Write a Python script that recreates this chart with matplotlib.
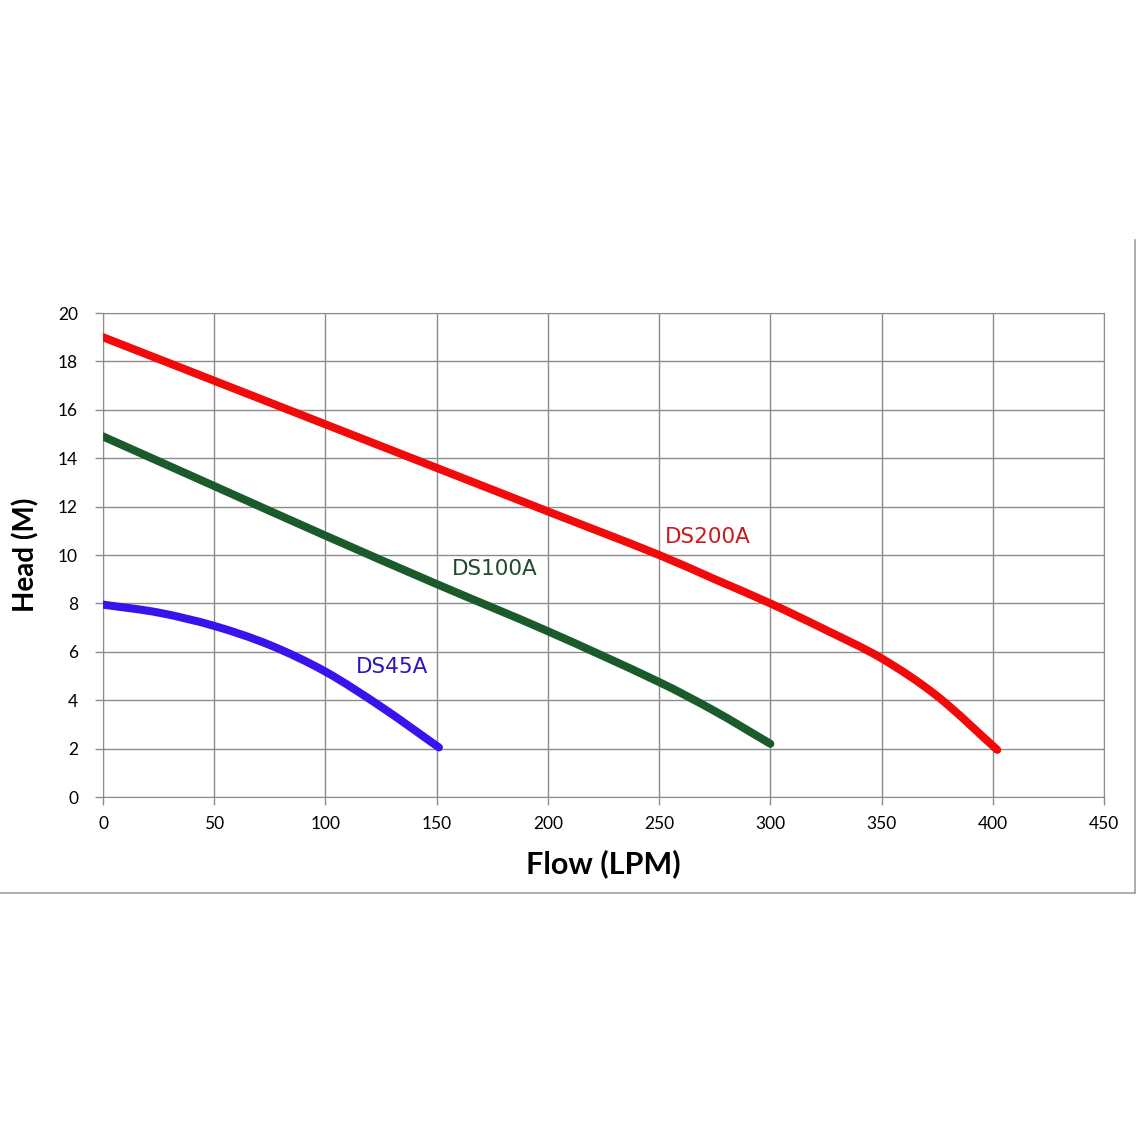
import matplotlib.pyplot as plt
from matplotlib.lines import Line2D
from matplotlib.path import Path
from matplotlib.patches import PathPatch

# pump curves (flow LPM, head M)
ds200_flow = [0, 50, 100, 150, 200, 250, 275, 300, 325, 350, 375, 402]
ds200_head = [19.0, 17.2, 15.4, 13.6, 11.8, 10.0, 9.0, 8.0, 6.9, 5.73, 4.17, 1.95]
ds100_flow = [0, 50, 100, 150, 200, 250, 275, 300]
ds100_head = [14.9, 12.85, 10.8, 8.8, 6.85, 4.75, 3.55, 2.2]
ds45_flow = [0, 25, 50, 75, 100, 125, 151]
ds45_head = [7.95, 7.62, 7.07, 6.28, 5.18, 3.73, 2.05]

x_ticks = [0, 50, 100, 150, 200, 250, 300, 350, 400, 450]
y_ticks = [0, 2, 4, 6, 8, 10, 12, 14, 16, 18, 20]


def smooth_path(xs, ys):
    # smoothed line like Excel's: cubic Hermite pieces drawn as Bezier curves
    n = len(xs)
    m = []
    for i in range(n):
        a = max(i - 1, 0)
        b = min(i + 1, n - 1)
        m.append((ys[b] - ys[a]) / (xs[b] - xs[a]))
    verts = [(xs[0], ys[0])]
    codes = [Path.MOVETO]
    for i in range(n - 1):
        h = xs[i + 1] - xs[i]
        verts += [(xs[i] + h / 3, ys[i] + m[i] * h / 3),
                  (xs[i + 1] - h / 3, ys[i + 1] - m[i + 1] * h / 3),
                  (xs[i + 1], ys[i + 1])]
        codes += [Path.CURVE4] * 3
    return Path(verts, codes)


fig = plt.figure(figsize=(11.37, 11.37), dpi=100)
ax = fig.add_axes([0.0906, 0.299, 0.8804, 0.4257])

grid_col = '#8c8c8c'
for fx, hy, col in [(ds200_flow, ds200_head, '#f20a0a'),
                    (ds100_flow, ds100_head, '#1b5a2a'),
                    (ds45_flow, ds45_head, '#3a12ee')]:
    ax.add_patch(PathPatch(smooth_path(fx, hy), facecolor='none', edgecolor=col,
                           lw=5.8, capstyle='round', joinstyle='round', zorder=3))

ax.text(272, 10.75, 'DS200A', color='#cc1a1a', fontsize=15.5, ha='center', va='center')
ax.text(176, 9.42, 'DS100A', color='#1f4a2e', fontsize=15.5, ha='center', va='center')
ax.text(130, 5.37, 'DS45A', color='#2a14c4', fontsize=15.5, ha='center', va='center')

ax.set_xlim(0, 450)
ax.set_ylim(0, 20)
ax.set_xticks(x_ticks)
ax.set_yticks(y_ticks)
ax.grid(True, color=grid_col, lw=1)
ax.set_axisbelow(True)
for s in ax.spines.values():
    s.set_color(grid_col)
ax.tick_params(colors=grid_col, labelcolor='black', length=6, width=1, labelsize=12.5)
for lab in ax.get_xticklabels() + ax.get_yticklabels():
    lab.set_family('Lato')
ax.tick_params(axis='x', pad=8)
ax.tick_params(axis='y', pad=12)

ax.set_xlabel('Flow (LPM)', fontsize=22, fontweight='bold', family='Lato', labelpad=12)
ax.set_ylabel('Head (M)', fontsize=20, fontweight='bold', family='Lato', labelpad=13)

# outer chart border (right and bottom edges visible)
fig.add_artist(Line2D([0.9985, 0.9985], [1 - 240/1137, 1 - 893/1137], color='#a0a0a0', lw=1.2))
fig.add_artist(Line2D([0, 0.9985], [1 - 893/1137, 1 - 893/1137], color='#a0a0a0', lw=1.2))

fig.savefig('out.png', dpi=100, facecolor='white')
